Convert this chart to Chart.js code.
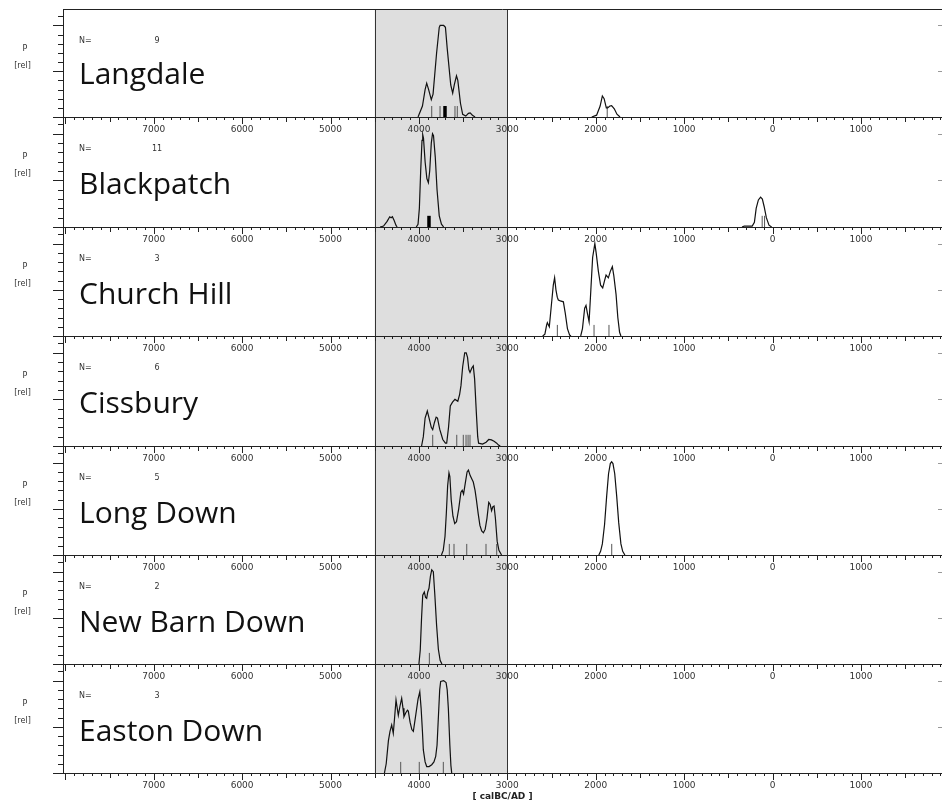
<!DOCTYPE html>
<html><head><meta charset="utf-8">
<script src="https://cdn.jsdelivr.net/npm/chart.js@4.4.1/dist/chart.umd.min.js"></script>
<style>
html,body{margin:0;padding:0;background:#fff;width:942px;height:806px;overflow:hidden;position:relative}
canvas{position:absolute;left:0}
</style></head><body>
<script>
// ---- DATA ----
const siteNames = ['Langdale','Blackpatch','Church Hill','Cissbury','Long Down','New Barn Down','Easton Down'];
const siteCounts = [9, 11, 3, 6, 5, 2, 3];

// null marks a break between separate clusters of probability
const langdaleYears = [-4010,-3960,-3930,-3912,-3890,-3860,-3840,-3800,-3770,-3760,-3720,-3700,-3680,-3640,-3618,-3600,-3575,-3560,-3530,-3505,-3470,-3440,-3420,-3395,-3365,
  -2500,
  -2045,-1990,-1950,-1925,-1905,-1880,-1865,-1840,-1820,-1790,-1760,-1725];
const langdaleP = [0,0.12,0.3,0.37,0.3,0.19,0.25,0.7,0.98,1.0,1.0,0.98,0.75,0.35,0.26,0.35,0.45,0.4,0.15,0.03,0.01,0.04,0.045,0.02,0,
  null,
  0,0.02,0.12,0.23,0.2,0.1,0.1,0.12,0.125,0.09,0.03,0];
const langdaleMarks = [-3855,-3761,-3592,-3566,-1870];
const langdaleBold = [-3705];

const blackpatchYears = [-4440,-4400,-4360,-4330,-4315,-4300,-4280,-4260,-4247,
  -4100,
  -4030,-4010,-3995,-3980,-3965,-3957,-3948,-3930,-3910,-3893,-3878,-3860,-3846,-3835,-3815,-3795,-3770,-3745,-3720,
  -2000,
  -345,-320,-280,-230,-205,-185,-160,-135,-115,-95,-70,-40,-10];
const blackpatchP = [0,0.01,0.06,0.11,0.1,0.11,0.07,0.02,0,
  null,
  0,0.03,0.2,0.6,0.93,0.99,0.95,0.7,0.52,0.475,0.6,0.9,1.0,0.98,0.75,0.4,0.12,0.03,0,
  null,
  0,0.01,0.01,0.01,0.05,0.2,0.29,0.32,0.3,0.22,0.1,0.02,0];
const blackpatchMarks = [-117,-90];
const blackpatchBold = [-3886];

const churchHillYears = [-2600,-2575,-2555,-2547,-2535,-2525,-2505,-2480,-2465,-2450,-2435,-2423,-2400,-2366,-2345,-2320,-2295,-2280,
  -2220,
  -2170,-2150,-2125,-2110,-2095,-2075,-2055,-2035,-2010,-1995,-1970,-1945,-1921,-1900,-1883,-1857,-1835,-1812,-1795,-1770,-1750,-1730,-1715];
const churchHillP = [0,0.02,0.12,0.145,0.12,0.1,0.3,0.55,0.63,0.5,0.42,0.39,0.38,0.37,0.25,0.08,0.01,0,
  null,
  0,0.08,0.3,0.33,0.25,0.155,0.5,0.85,1.0,0.9,0.7,0.55,0.52,0.6,0.66,0.63,0.7,0.75,0.65,0.45,0.2,0.04,0];
const churchHillMarks = [-2434,-2019,-1850];
const churchHillBold = [];

const cissburyYears = [-3970,-3950,-3930,-3905,-3885,-3860,-3844,-3825,-3805,-3790,-3765,-3730,-3700,-3686,-3665,-3645,-3620,-3592,-3560,-3540,-3524,-3505,-3482,-3465,-3450,-3435,-3422,-3400,-3385,-3370,-3350,-3335,-3325,-3280,-3240,-3210,-3180,-3150,-3120,-3100,-3080];
const cissburyP = [0,0.1,0.3,0.375,0.3,0.2,0.175,0.25,0.31,0.3,0.18,0.07,0.03,0.03,0.2,0.43,0.47,0.5,0.48,0.55,0.65,0.85,1.0,1.0,0.95,0.82,0.79,0.84,0.86,0.72,0.35,0.1,0.03,0.02,0.04,0.07,0.065,0.05,0.03,0.01,0];
const cissburyMarks = [-3844,-3572,-3498,-3467,-3444,-3422];
const cissburyBold = [];

const longDownYears = [-3745,-3725,-3705,-3690,-3675,-3660,-3650,-3635,-3615,-3595,-3575,-3550,-3525,-3510,-3495,-3475,-3455,-3440,-3420,-3400,-3385,-3365,-3350,-3330,-3310,-3290,-3270,-3250,-3230,-3210,-3195,-3178,-3165,-3150,-3135,-3115,-3095,-3065,
  -2500,
  -1965,-1945,-1925,-1900,-1876,-1855,-1835,-1820,-1805,-1785,-1763,-1740,-1715,-1695,-1670];
const longDownP = [0,0.05,0.2,0.45,0.75,0.89,0.85,0.6,0.42,0.34,0.36,0.5,0.68,0.7,0.66,0.78,0.9,0.92,0.86,0.82,0.79,0.7,0.6,0.45,0.32,0.26,0.24,0.28,0.4,0.57,0.55,0.48,0.52,0.53,0.4,0.15,0.05,0,
  null,
  0,0.04,0.12,0.33,0.64,0.88,0.99,1.01,0.99,0.88,0.64,0.35,0.12,0.04,0];
const longDownMarks = [-3656,-3603,-3459,-3241,-3120,-1819];
const longDownBold = [];

const newBarnYears = [-4000,-3985,-3970,-3957,-3939,-3925,-3912,-3900,-3886,-3870,-3855,-3837,-3820,-3800,-3780,-3760,-3740];
const newBarnP = [0,0.15,0.5,0.745,0.78,0.72,0.71,0.78,0.82,0.95,1.02,1.0,0.75,0.42,0.16,0.04,0];
const newBarnMarks = [-3882];
const newBarnBold = [];

const eastonYears = [-4390,-4370,-4345,-4327,-4308,-4290,-4275,-4259,-4245,-4233,-4215,-4195,-4180,-4169,-4150,-4130,-4120,-4100,-4080,-4063,-4040,-4010,-3990,-3975,-3960,-3950,-3930,-3912,-3885,-3855,-3830,-3810,-3795,-3780,-3765,-3754,-3720,-3693,-3680,-3667,-3650,-3638,-3629];
const eastonP = [0,0.1,0.35,0.45,0.52,0.43,0.6,0.79,0.7,0.625,0.72,0.81,0.7,0.61,0.65,0.68,0.67,0.55,0.47,0.45,0.6,0.8,0.88,0.7,0.45,0.25,0.12,0.07,0.07,0.09,0.12,0.18,0.3,0.6,0.9,0.99,1.0,0.98,0.9,0.7,0.3,0.08,0];
const eastonMarks = [-4206,-3996,-3724];
const eastonBold = [];

const xTickValues = [-7000,-6000,-5000,-4000,-3000,-2000,-1000,0,1000];
const xTickLabels = ['7000','6000','5000','4000','3000','2000','1000','0','1000'];
const shadeRange = [-4500,-3000];

// ---- table built from the arrays ----
const sites = [
  {years: langdaleYears, p: langdaleP, marks: langdaleMarks, bold: langdaleBold},
  {years: blackpatchYears, p: blackpatchP, marks: blackpatchMarks, bold: blackpatchBold},
  {years: churchHillYears, p: churchHillP, marks: churchHillMarks, bold: churchHillBold},
  {years: cissburyYears, p: cissburyP, marks: cissburyMarks, bold: cissburyBold},
  {years: longDownYears, p: longDownP, marks: longDownMarks, bold: longDownBold},
  {years: newBarnYears, p: newBarnP, marks: newBarnMarks, bold: newBarnBold},
  {years: eastonYears, p: eastonP, marks: eastonMarks, bold: eastonBold}
];

// ---- layout / style ----
const X_MIN = -8026, X_MAX = 1917, Y_MAX = 1.18, MARK_H = 0.12;
const panelTop0 = 9;
const panelBottoms = [117, 227, 336, 446, 555, 664, 773];
const PAD_TOP = 4;

function markSegments(arr) {
  const out = [];
  arr.forEach(m => { out.push({x: m, y: 0}, {x: m, y: MARK_H}, {x: m, y: null}); });
  return out;
}

const decor = {
  id: 'decor',
  beforeDraw(chart) {
    const {ctx, chartArea: a, scales: {x}} = chart;
    const x1 = x.getPixelForValue(shadeRange[0]), x2 = x.getPixelForValue(shadeRange[1]);
    ctx.save();
    ctx.fillStyle = '#dedede';
    ctx.fillRect(x1, a.top, x2 - x1, a.bottom - a.top);
    ctx.restore();
  },
  afterDraw(chart, args, opts) {
    const {ctx, chartArea: a, scales: {x, y}} = chart;
    const i = opts.index;
    ctx.save();
    ctx.strokeStyle = '#333'; ctx.lineWidth = 1;
    shadeRange.forEach(v => {
      const px = Math.round(x.getPixelForValue(v)) + 0.5;
      ctx.beginPath(); ctx.moveTo(px, a.top); ctx.lineTo(px, a.bottom); ctx.stroke();
    });
    if (i === 0) {
      ctx.strokeStyle = '#222';
      ctx.beginPath(); ctx.moveTo(a.left, Math.round(a.top) + 0.5); ctx.lineTo(a.right, Math.round(a.top) + 0.5); ctx.stroke();
    }
    ctx.strokeStyle = '#222';
    for (let yr = -8000; yr <= 1900; yr += 100) {
      if (yr < X_MIN || yr > X_MAX) continue;
      const px = Math.round(x.getPixelForValue(yr)) + 0.5;
      const len = (yr % 1000 === 0) ? 7 : (yr % 500 === 0 ? 5 : 3);
      ctx.beginPath(); ctx.moveTo(px, a.bottom); ctx.lineTo(px, a.bottom + len); ctx.stroke();
    }
    for (let k = 0; k <= 11; k++) {
      const v = k / 10;
      const py = Math.round(y.getPixelForValue(v)) + 0.5;
      const len = (k % 5 === 0) ? 10 : 5;
      ctx.beginPath(); ctx.moveTo(a.left - len, py); ctx.lineTo(a.left, py); ctx.stroke();
    }
    ctx.strokeStyle = '#999';
    [0.5, 1.0].forEach(v => {
      const py = Math.round(y.getPixelForValue(v)) + 0.5;
      ctx.beginPath(); ctx.moveTo(a.right - 4, py); ctx.lineTo(a.right, py); ctx.stroke();
    });
    ctx.fillStyle = '#333';
    ctx.font = '8px "DejaVu Sans"';
    ctx.textAlign = 'center'; ctx.textBaseline = 'middle';
    ctx.fillText('P', 25, a.top + 40);
    ctx.fillText('[rel]', 22.5, a.top + 57);
    ctx.textAlign = 'left';
    ctx.fillText('N=', 79, a.top + 32);
    ctx.textAlign = 'center';
    ctx.fillText(String(siteCounts[i]), 157, a.top + 32);
    ctx.fillStyle = '#111';
    ctx.font = '30px "Open Sans"';
    ctx.textAlign = 'left'; ctx.textBaseline = 'alphabetic';
    ctx.fillText(siteNames[i], 79, a.top + (i === 0 ? 74.5 : 76.5));
    ctx.restore();
  }
};

function makeChart(i) {
  const top = i === 0 ? panelTop0 : panelBottoms[i - 1];
  const bottom = panelBottoms[i];
  const below = i === 6 ? (806 - bottom) : 30;
  const H = PAD_TOP + (bottom - top) + below;
  const cv = document.createElement('canvas');
  cv.width = 942; cv.height = H;
  cv.style.width = '942px'; cv.style.height = H + 'px';
  cv.style.top = (top - PAD_TOP) + 'px';
  cv.style.zIndex = String(20 - i);
  document.body.appendChild(cv);
  const s = sites[i];
  new Chart(cv, {
    type: 'line',
    data: {
      datasets: [
        {data: s.years.map((yr, k) => ({x: yr, y: s.p[k]})), borderColor: '#111', borderWidth: 1.2, pointRadius: 0, tension: 0, fill: false, spanGaps: false},
        {data: markSegments(s.marks), borderColor: '#555', borderWidth: 1, pointRadius: 0, spanGaps: false},
        {data: markSegments(s.bold), borderColor: '#000', borderWidth: 3.5, pointRadius: 0, spanGaps: false}
      ]
    },
    options: {
      responsive: false, animation: false, devicePixelRatio: 1,
      layout: {padding: {top: PAD_TOP, left: 0, right: 0, bottom: 0}},
      plugins: {legend: {display: false}, tooltip: {enabled: false}, decor: {index: i}},
      scales: {
        x: {
          type: 'linear', position: 'bottom', min: X_MIN, max: X_MAX,
          grid: {display: false, drawTicks: false},
          border: {display: true, color: '#222', width: 1},
          ticks: {autoSkip: false, maxRotation: 0, padding: 7, color: '#333',
            font: {family: 'DejaVu Sans', size: 9},
            callback: (v, k) => xTickLabels[k]},
          afterBuildTicks: sc => { sc.ticks = xTickValues.map(v => ({value: v})); },
          afterFit: sc => { sc.height = below; },
          title: {display: i === 6, text: '[ calBC/AD ]', color: '#222',
            font: {family: 'DejaVu Sans', size: 9, weight: 'bold'}, padding: {top: 0, bottom: 4}}
        },
        y: {
          type: 'linear', min: 0, max: Y_MAX,
          grid: {display: false, drawTicks: false},
          border: {display: true, color: '#222', width: 1},
          ticks: {display: false},
          afterFit: sc => { sc.width = 63; }
        }
      }
    },
    plugins: [decor]
  });
}

for (let i = 0; i < 7; i++) makeChart(i);
</script>
</body></html>
